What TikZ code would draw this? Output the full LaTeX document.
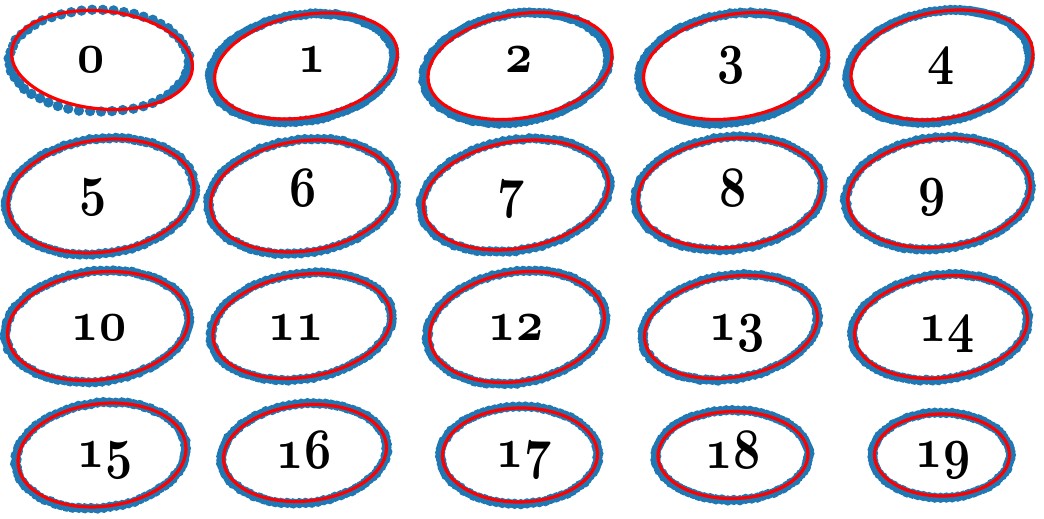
\documentclass[tikz,border=0pt]{standalone}
\usepackage{amsmath,amssymb}
\usepackage{graphicx}
\definecolor{ptblue}{RGB}{31,119,180}
\tikzset{
  pts/.style={fill=ptblue},
  fitline/.style={draw=red, line width=1.6pt},
  num/.style={inner sep=0pt, anchor=base, font=\fontsize{24.88}{26}\usefont{OML}{cmm}{b}{it}}
}

\begin{document}
\begin{tikzpicture}[x=0.5pt,y=-0.5pt]
\useasboundingbox (0,0) rectangle (1044,519);
\pgfmathsetseed{7}

% the samples: points, fitted ellipse, index
\foreach \cx/\cy/\ra/\rb/\rot/\ba/\bb/\brot/\egg/\edir/\num/\lab/\lx/\ly in {
 102/60/90.8/48.9/-5.8/90/51/-1/0.035/205/52/0/91/73,
 306/66/92.6/51/11/93/53/9/0.05/210/110/1/312/73,
 520/66/93/51.8/10/93/54/9/0.05/210/110/2/519/73,
 736/66/93.5/51.7/10.2/93.5/54/9/0.05/215/110/3/731/73,
 942/65/92/53.3/10.4/92/55/10/0.04/200/110/4/941/74,
 101/196/93.6/56/8/95/57.5/8/0.01/200/90/5/93/205,
 303/196/93/55/8/94.5/56.5/8/0.01/200/90/6/303/206,
 516/195/93.5/53.3/10/95/55/10/0.01/200/90/7/511/206,
 730/193/92.4/54.4/6.2/94/56/6.2/0.01/200/90/8/733/206,
 939/193/91.7/54/6.8/93/55.5/6.8/0.01/200/90/9/932/205,
 98/326/91/53.7/7.3/92.5/55/7.3/0.01/200/90/10/99/340,
 302/326/89.8/51.2/9/91/52.5/9/0.01/200/90/11/296/340,
 517/327/88.2/54.3/9.5/89.5/55.5/9.5/0.01/200/90/12/516/340,
 731/327/87.3/50.2/9.4/88.5/51.5/9.4/0.01/200/90/13/737/340,
 941/327/87/50.6/7.5/88.5/52/7.5/0.01/200/90/14/947/341,
 102/455/84.4/51.3/7/85.5/52.5/7/0.015/200/85/15/105/467,
 305/453/81.8/48/5.9/83/49.5/5.9/0.01/200/85/16/304/468,
 520/455/77.5/47/1/79/48.5/1/0.01/200/80/17/524/467,
 733/455/75/43.5/1/76.5/45/1/0.01/200/80/18/733/468,
 942/455/67.5/41/0/69/42.5/0/0.01/200/75/19/943/467}{
  \begin{scope}[shift={(\cx,\cy)}]
    \foreach \k in {1,...,\num}{
      \pgfmathsetmacro\ang{360/\num*\k}
      \pgfmathsetmacro\rr{1+\egg*cos(\ang-\edir)+0.02*(rnd-0.5)}
      \fill[pts,rotate=\brot] ({\ba*\rr*cos(\ang)},{-\bb*\rr*sin(\ang)}) circle (2.6pt);
    }
    \draw[fitline,rotate=\rot] (0,0) ellipse [x radius=\ra*0.5pt, y radius=\rb*0.5pt];
  \end{scope}
  \node[num] (s\lab) at (\lx,\ly) {\scalebox{0.95}[1.15]{\lab}};
}

\end{tikzpicture}
\end{document}
